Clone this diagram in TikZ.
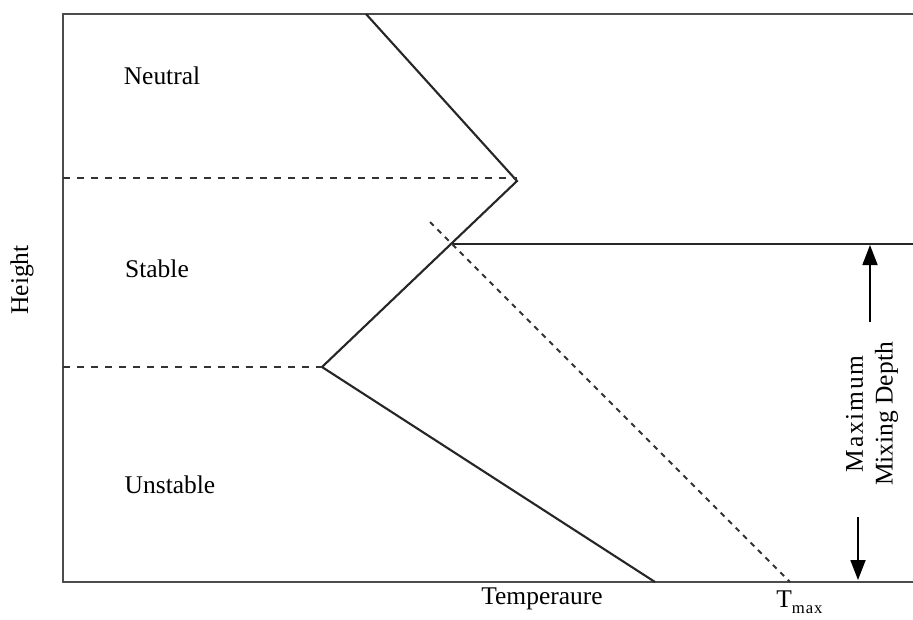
\documentclass[tikz,border=0pt]{standalone}
\usepackage{fontspec}
\setmainfont{Liberation Serif}
\usetikzlibrary{arrows.meta}
\tikzset{
  axisline/.style={line width=1.6pt,draw=black!70},
  profile/.style={line width=1.2pt,draw=black!85},
  levelline/.style={line width=1pt,draw=black!80,dash pattern=on 4pt off 4pt},
  adiabat/.style={line width=1.2pt,draw=black!80,dash pattern=on 3pt off 3pt},
  depth/.style={line width=1pt,-{Triangle[length=4mm,width=3mm]}},
  lbl/.style={inner sep=0pt,font=\fontsize{14.5}{17}\selectfont}
}
\begin{document}
\begin{tikzpicture}[x=0.02cm,y=-0.02cm]
  \useasboundingbox (0,0) rectangle (913,619);
  % frame
  \coordinate (tl) at (63,14);
  \coordinate (tr) at (913,14);
  \coordinate (bl) at (63,582);
  \coordinate (br) at (913,582);
  \draw[axisline] (tr) -- (tl) -- (bl) -- (br);
  % temperature profile
  \coordinate (p0) at (366,14);
  \coordinate (p1) at (517,181);
  \coordinate (p2) at (322,367);
  \coordinate (p3) at (655,582);
  \draw[profile] (p0) -- (p1) -- (p2) -- (p3);
  % layer limits
  \coordinate (l1) at (63,178);
  \coordinate (l2) at (63,367);
  \draw[levelline] (l1) -- (p1 |- l1);
  \draw[levelline] (l2) -- (p2);
  % mixing height
  \coordinate (m0) at (453,244);
  \coordinate (m1) at (913,244);
  \draw[profile] (m0) -- (m1);
  \coordinate (a0) at (430,222);
  \coordinate (a1) at (790,582);
  \draw[adiabat] (a0) -- (a1);
  % arrows
  \coordinate (u0) at (870,322);
  \coordinate (u1) at (870,245);
  \coordinate (d0) at (858,517);
  \coordinate (d1) at (858,580);
  \draw[depth] (u0) -- (u1);
  \draw[depth] (d0) -- (d1);
  \node[lbl,rotate=90,align=center] (mix) at (872,414) {M\kern1pt a\kern1pt x\kern1pt i\kern1pt m\kern1pt u\kern1pt m\\Mixing Depth};
  % labels
  \node[lbl] (neutral) at (162,76) {Neutral};
  \node[lbl] (stable) at (157,269) {Stable};
  \node[lbl] (unstable) at (170,485) {Unstable};
  \node[lbl,rotate=90] (height) at (22,280) {Height};
  \node[lbl,anchor=base west] (tmax) at (776,607) {T\raisebox{-3.5pt}{\fontsize{9.5}{10}\selectfont m\kern0.5pt a\kern0.5pt x}};
  \node[lbl] (temp) at (542,599) {Temperaure};
\end{tikzpicture}
\end{document}
